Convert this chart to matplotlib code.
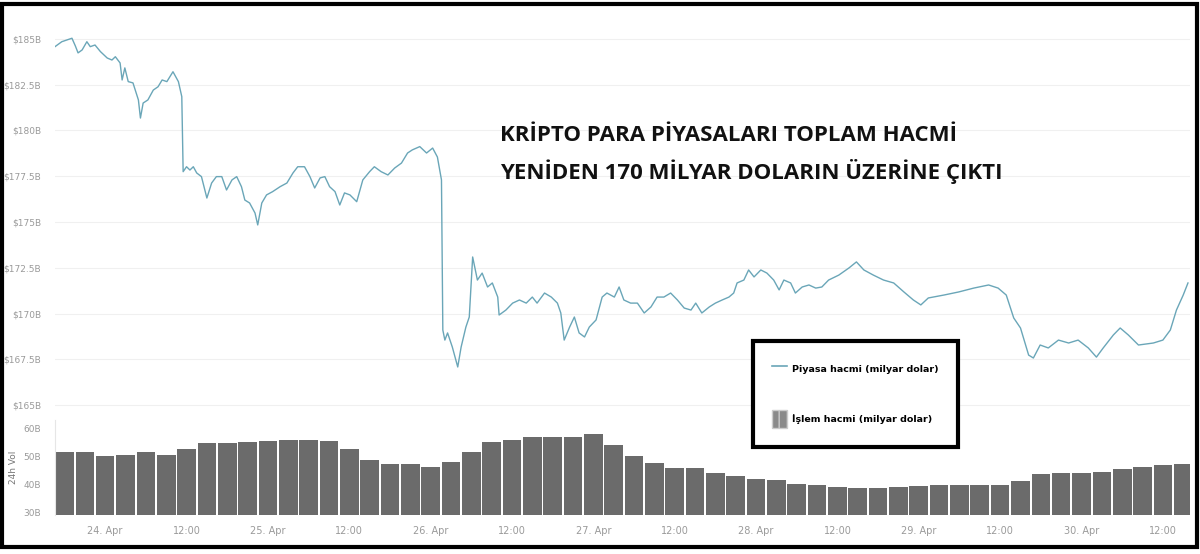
import matplotlib.pyplot as plt
from matplotlib.lines import Line2D
from matplotlib.patches import Patch, Rectangle

# hours since 24 Apr 00:00
price_hours = [-7.4, -6.4, -5.6, -4.9, -4.4, -4.0, -3.4, -2.7, -2.2, -1.5, -0.7, 0.3, 1.0, 1.5, 2.2,
               2.5, 2.9, 3.4, 4.1, 4.9, 5.2, 5.6, 6.3, 7.1, 7.8, 8.4, 9.1, 10.0, 10.8, 11.3,
               11.5, 12.0, 12.5, 13.0, 13.5, 14.2, 15.0, 15.7, 16.4, 17.2, 17.9, 18.7, 19.4, 20.1,
               20.6, 21.3, 22.1, 22.5, 23.1, 23.8, 24.7, 25.8, 26.8, 27.7, 28.4, 29.4, 30.2, 30.9,
               31.7, 32.4, 33.1, 33.9, 34.6, 35.3, 36.1, 37.1, 38.0, 39.0, 39.7, 40.7, 41.7, 42.7,
               43.7, 44.6, 45.3, 46.4, 47.4, 48.3, 49.0, 49.6, 49.8, 50.1, 50.5, 51.2, 52.0, 52.5,
               53.2, 53.7, 54.2, 54.9, 55.6, 56.4, 57.1, 57.9, 58.1, 59.1, 60.1, 61.1, 62.1, 63.0,
               63.7, 64.8, 65.8, 66.7, 67.2, 67.7, 68.5, 69.2, 69.9, 70.7, 71.4, 72.4, 73.3, 74.0,
               75.1, 75.8, 76.5, 77.5, 78.5, 79.5, 80.5, 81.4, 82.4, 83.4, 84.4, 85.4, 86.4, 87.1,
               88.0, 89.1, 90.0, 91.0, 92.0, 92.7, 93.2, 94.2, 94.9, 95.7, 96.7, 97.6, 98.6, 99.4,
               100.1, 101.1, 101.8, 102.8, 103.8, 104.8, 105.7, 106.7, 108.2, 109.7, 110.8, 111.9,
               113.3, 114.8, 116.3, 117.8, 119.2, 120.3, 121.4, 123.7, 125.9, 128.1, 130.3, 131.7,
               132.9, 134.0, 135.0, 136.2, 136.9, 137.9, 139.1, 140.6, 142.1, 143.5, 145.0, 146.2,
               147.2, 148.7, 149.7, 150.9, 152.4, 154.6, 156.0, 157.1, 158.0, 159.0, 159.7]
price_values = [184.58, 184.85, 184.95, 185.04, 184.62, 184.24, 184.40, 184.85, 184.58, 184.67, 184.31,
                183.96, 183.85, 184.03, 183.69, 182.76, 183.42, 182.67, 182.60, 181.67, 180.68, 181.50,
                181.67, 182.21, 182.39, 182.76, 182.67, 183.21, 182.67, 181.85, 177.75, 178.02, 177.84,
                178.02, 177.68, 177.48, 176.31, 177.13, 177.48, 177.48, 176.75, 177.30, 177.48, 176.93,
                176.20, 176.04, 175.49, 174.84, 176.04, 176.48, 176.66, 176.93, 177.13, 177.68, 178.02,
                178.02, 177.48, 176.86, 177.41, 177.48, 176.93, 176.66, 175.93, 176.59, 176.48, 176.11,
                177.30, 177.75, 178.02, 177.75, 177.57, 177.95, 178.22, 178.77, 178.94, 179.12, 178.77,
                179.04, 178.55, 177.30, 169.10, 168.55, 168.94, 168.17, 167.08, 168.17, 169.26, 169.81,
                173.09, 171.83, 172.21, 171.45, 171.67, 170.90, 169.92, 170.19, 170.57, 170.74, 170.57,
                170.90, 170.57, 171.12, 170.90, 170.57, 170.03, 168.55, 169.26, 169.81, 168.94, 168.72,
                169.26, 169.65, 170.90, 171.12, 170.90, 171.45, 170.74, 170.57, 170.57, 170.03, 170.36,
                170.90, 170.90, 171.12, 170.74, 170.30, 170.19, 170.57, 170.03, 170.36, 170.57, 170.74,
                170.90, 171.12, 171.67, 171.83, 172.38, 172.00, 172.38, 172.21, 171.83, 171.29, 171.83,
                171.67, 171.12, 171.45, 171.56, 171.39, 171.45, 171.83, 172.10, 172.49, 172.82, 172.38,
                172.10, 171.83, 171.67, 171.18, 170.74, 170.47, 170.85, 171.01, 171.18, 171.39, 171.56,
                171.39, 171.01, 169.76, 169.21, 167.73, 167.57, 168.28, 168.12, 168.55, 168.39, 168.55,
                168.12, 167.62, 168.12, 168.83, 169.21, 168.83, 168.28, 168.39, 168.55, 169.10, 170.19,
                171.01, 171.67]

vol_hours = [-6, -3, 0, 3, 6, 9, 12, 15, 18, 21, 24, 27, 30, 33, 36, 39, 42, 45, 48, 51, 54, 57,
             60, 63, 66, 69, 72, 75, 78, 81, 84, 87, 90, 93, 96, 99, 102, 105, 108, 111, 114, 117,
             120, 123, 126, 129, 132, 135, 138, 141, 144, 147, 150, 153, 156, 159]
vol_values = [51.5, 51.4, 50.0, 50.4, 51.4, 50.4, 52.5, 54.6, 54.6, 55.0, 55.4, 55.7, 55.7, 55.4,
              52.5, 48.6, 47.1, 47.1, 46.1, 47.9, 51.4, 55.0, 55.7, 56.8, 56.8, 56.8, 57.9, 53.9,
              50.0, 47.5, 45.7, 45.7, 43.9, 42.9, 41.8, 41.4, 40.0, 39.6, 38.9, 38.6, 38.6, 38.9,
              39.3, 39.6, 39.6, 39.6, 39.6, 41.1, 43.6, 43.9, 43.9, 44.3, 45.4, 46.1, 46.8, 47.1]

price_ticks = [165, 167.5, 170, 172.5, 175, 177.5, 180, 182.5, 185]
price_labels = ['$165B', '$167.5B', '$170B', '$172.5B', '$175B', '$177.5B', '$180B', '$182.5B', '$185B']
vol_ticks = [30, 40, 50, 60]
vol_labels = ['30B', '40B', '50B', '60B']
x_ticks = [0, 12, 24, 36, 48, 60, 72, 84, 96, 108, 120, 132, 144, 156]
x_labels = ['24. Apr', '12:00', '25. Apr', '12:00', '26. Apr', '12:00', '27. Apr', '12:00',
            '28. Apr', '12:00', '29. Apr', '12:00', '30. Apr', '12:00']

line_color = '#6aa6b8'
tick_color = '#9a9a9a'

fig = plt.figure(figsize=(12, 5.54), dpi=100)
W, H = 1200, 554

ax = fig.add_axes([55 / W, 1 - 410 / H, 1135 / W, 380 / H])
axv = fig.add_axes([55 / W, 1 - 515 / H, 1135 / W, 95 / H], sharex=ax)

ax.plot(price_hours, price_values, color=line_color, lw=1.0)
ax.set_ylim(164.73, 185.49)
ax.set_yticks(price_ticks)
ax.set_yticklabels(price_labels)
ax.grid(axis='y', color='#f0f0f0', lw=0.8)
ax.tick_params(axis='y', length=0, labelsize=6.5, labelcolor=tick_color, pad=10)
ax.tick_params(axis='x', length=0, labelbottom=False)
for s in ax.spines.values():
    s.set_visible(False)

axv.bar(vol_hours, vol_values, width=2.75, color='#6b6b6b', bottom=0)
axv.set_ylim(28.93, 62.86)
axv.set_yticks(vol_ticks)
axv.set_yticklabels(vol_labels)
axv.set_ylabel('24h Vol', fontsize=6.5, color='#777777', labelpad=4)
axv.tick_params(axis='y', length=0, labelsize=6.5, labelcolor=tick_color, pad=10)
axv.set_xticks(x_ticks)
axv.set_xticklabels(x_labels)
axv.tick_params(axis='x', length=0, labelsize=7, labelcolor=tick_color, pad=8)
axv.set_xlim(-7.4, 160.0)
for k, s in axv.spines.items():
    if k == 'left':
        s.set_color('#e6e6e6')
    else:
        s.set_visible(False)

fig.text(500 / W, 1 - 136 / H, 'KRİPTO PARA PİYASALARI TOPLAM HACMİ', fontsize=16,
         fontweight='bold', family='Open Sans', va='center', ha='left', color='#111111')
fig.text(500 / W, 1 - 172 / H, 'YENİDEN 170 MİLYAR DOLARIN ÜZERİNE ÇIKTI', fontsize=16,
         fontweight='bold', family='Open Sans', va='center', ha='left', color='#111111')

handles = [Line2D([], [], color=line_color, lw=1.2),
           Patch(facecolor='#8a8a8a', edgecolor='#cccccc', hatch='||')]
leg = fig.legend(handles, ['Piyasa hacmi (milyar dolar)', 'İşlem hacmi (milyar dolar)'],
                 loc='upper left', bbox_to_anchor=(748 / W, 1 - 336 / H), frameon=True,
                 fancybox=False, edgecolor='black', framealpha=1, borderpad=2.0,
                 labelspacing=3.4, handlelength=1.6, handleheight=2.6, handletextpad=0.6,
                 prop={'weight': 'bold', 'size': 6.8})
leg.get_frame().set_linewidth(3)

fig.patches.append(Rectangle((2 / W, 1 - 547 / H), 1195 / W, 543 / H, transform=fig.transFigure,
                             fill=False, lw=3, ec='black'))

fig.savefig('out.png', dpi=100)
